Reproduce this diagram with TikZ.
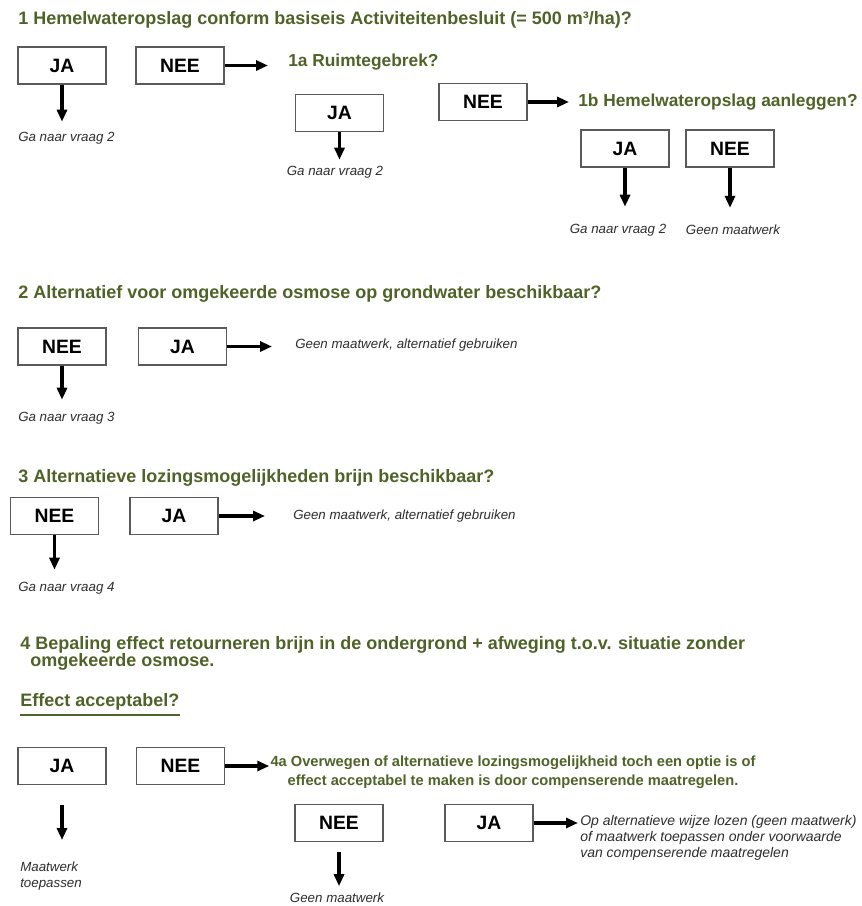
\documentclass[tikz,border=0pt]{standalone}
\usepackage{fontspec}
\setmainfont{Liberation Sans}
\usetikzlibrary{arrows.meta}
\definecolor{groen}{RGB}{79,98,40}
\definecolor{rand}{RGB}{90,90,90}
\definecolor{grijs}{RGB}{45,45,45}

\begin{document}
\begin{tikzpicture}[x=.75pt,y=-.75pt]

      \useasboundingbox (0,0) rectangle (862,906);

      \begin{scope}[every node/.style={draw=rand,line width=.8pt,minimum width=66pt,minimum height=27.75pt,inner sep=0pt,font=\bfseries\fontsize{14.5}{16}\selectfont}]
        \node (ja1)   at (62,65.5)   {JA};
        \node (nee1)  at (180,65.5)  {NEE};
        \node (ja1a)  at (339.5,113) {JA};
        \node (nee1a) at (483,102)   {NEE};
        \node (ja1b)  at (625,148.5) {JA};
        \node (nee1b) at (730,148.5) {NEE};
        \node (nee2)  at (62,346.5)  {NEE};
        \node (ja2)   at (182.5,346.5) {JA};
        \node (nee3)  at (54.5,516)  {NEE};
        \node (ja3)   at (174,516)   {JA};
        \node (ja4)   at (62,766)    {JA};
        \node (nee4)  at (180.5,766) {NEE};
        \node (nee4a) at (339,823)   {NEE};
        \node (ja4a)  at (489,823)   {JA};
      \end{scope}

      \begin{scope}[every node/.style={anchor=west,inner sep=0pt,align=left,text=groen,font=\bfseries\fontsize{13.5}{12.75}\selectfont}]
        \node (v1)  at (18,20)    {1 Hemelwateropslag conform basiseis Activiteitenbesluit (= 500 m³/ha)?};
        \node[font=\bfseries\fontsize{13}{14}\selectfont] (v1a) at (288,62)   {1a Ruimtegebrek?};
        \node[font=\bfseries\fontsize{13}{14}\selectfont] (v1b) at (578,102)  {1b Hemelwateropslag aanleggen?};
        \node (v2)  at (18,294)   {2 Alternatief voor omgekeerde osmose op grondwater beschikbaar?};
        \node (v3)  at (18,478)   {3 Alternatieve lozingsmogelijkheden brijn beschikbaar?};
        \node (v4)  at (20,653.5) {4 Bepaling effect retourneren brijn in de ondergrond + afweging t.o.v. situatie zonder\\\hspace*{7.5pt}omgekeerde osmose.};
        \node (eff) at (20,702)   {Effect acceptabel?};
        \node[anchor=center,align=center,font=\bfseries\fontsize{11}{14.25}\selectfont] (v4a) at (513,772.5)
          {4a Overwegen of alternatieve lozingsmogelijkheid toch een optie is of\\effect acceptabel te maken is door compenserende maatregelen.};
      \end{scope}

      \draw[groen,line width=1.5pt] ([yshift=-3pt]eff.south west) -- ([yshift=-3pt]eff.south east);

      \begin{scope}[every node/.style={anchor=west,inner sep=0pt,align=left,text=grijs,font=\itshape\fontsize{10}{12}\selectfont}]
        \node (g1)     at (18,138)    {Ga naar vraag 2};
        \node[anchor=center] (g1a)    at (335,172)   {Ga naar vraag 2};
        \node[anchor=center] (g1b)    at (618,230)   {Ga naar vraag 2};
        \node[anchor=center] (geen1b) at (733,230)   {Geen maatwerk};
        \node (geen2)  at (295,345)   {Geen maatwerk, alternatief gebruiken};
        \node (g2)     at (18,418)    {Ga naar vraag 3};
        \node (geen3)  at (293,516)   {Geen maatwerk, alternatief gebruiken};
        \node (g3)     at (18,588)    {Ga naar vraag 4};
        \node (mw4)    at (20,876.5)  {Maatwerk\\toepassen};
        \node[anchor=center] (geen4a) at (337,898)   {Geen maatwerk};
        \node[font=\itshape\fontsize{10.5}{12}\selectfont] (op4a) at (580,838)
          {Op alternatieve wijze lozen (geen maatwerk)\\of maatwerk toepassen onder voorwaarde\\van compenserende maatregelen};
      \end{scope}

      \begin{scope}[every edge/.style={draw,line width=2.6pt,-{Triangle[length=9pt,width=7.5pt]}}]
        \path (nee1)  edge[shorten >=15pt]   (nee1 -| v1a.west);
        \path (ja1)   edge[shorten >=7.5pt]  (ja1 |- g1.north);
        \path (ja1a)  edge[shorten >=4.5pt]  (ja1a |- g1a.north);
        \path (nee1a) edge[shorten >=6.75pt] (nee1a -| v1b.west);
        \path (ja1b)  edge[shorten >=12.75pt] (ja1b |- g1b.north);
        \path (nee1b) edge[shorten >=12.75pt] (nee1b |- geen1b.north);
        \path (ja2)   edge[shorten >=17.25pt] (ja2 -| geen2.west);
        \path (nee2)  edge[shorten >=9pt]    (nee2 |- g2.north);
        \path (ja3)   edge[shorten >=21pt]   (ja3 -| geen3.west);
        \path (nee3)  edge[shorten >=9pt]    (nee3 |- g3.north);
        \path (nee4)  edge[shorten >=.75pt]  (nee4 -| v4a.west);
        \path (ja4)   edge[shorten <=15pt,shorten >=16.5pt] (ja4 |- mw4.north);
        \path (nee4a) edge[shorten <=7.5pt,shorten >=5pt] (nee4a |- geen4a.north);
        \path (ja4a)  edge[shorten >=1.5pt]  (ja4a -| op4a.west);
      \end{scope}

    \end{tikzpicture}
\end{document}
